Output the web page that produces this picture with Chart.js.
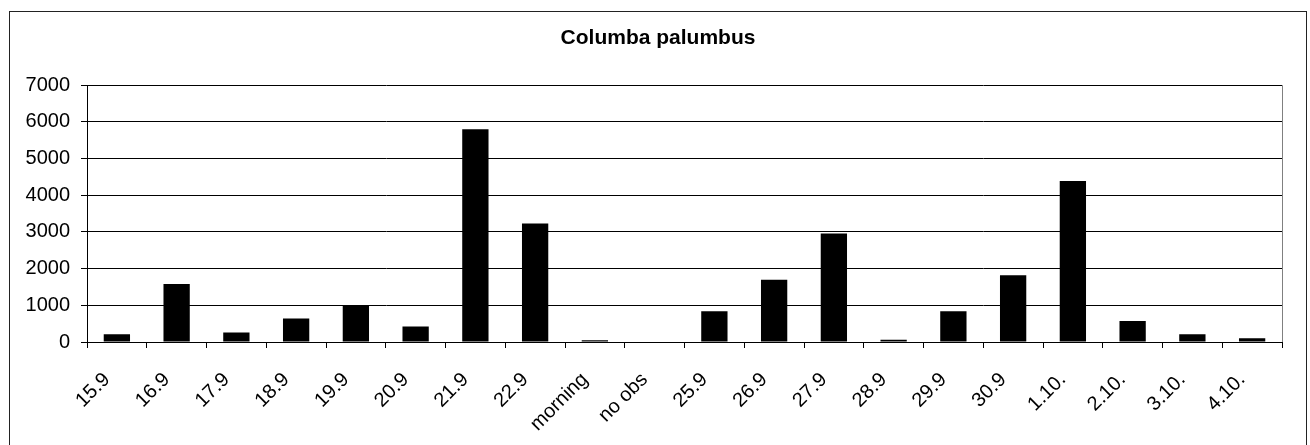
<!DOCTYPE html>
<html lang="en">
<head>
    <meta charset="UTF-8">
    <title>Columba palumbus</title>
    <script src="https://cdn.jsdelivr.net/npm/chart.js"></script>
    <style>
        html, body { margin: 0; padding: 0; background: #fff; }
        #wrap { position: relative; width: 1310px; height: 445px; overflow: hidden; }
        #frame {
            position: absolute; left: 9px; top: 11px;
            width: 1296px; height: 445px;
            border: 1px solid #222;
        }
        #chart { position: absolute; left: 0; top: 0; }
    </style>
</head>
<body>
    <div id="wrap">
        <div id="frame"></div>
        <canvas id="chart" width="1310" height="445"></canvas>
    </div>

    <script>
        // Observation days
        const days = ['15.9', '16.9', '17.9', '18.9', '19.9', '20.9', '21.9', '22.9', 'morning', 'no obs',
                      '25.9', '26.9', '27.9', '28.9', '29.9', '30.9', '1.10.', '2.10.', '3.10.', '4.10.'];
        // Counted birds per day
        const counts = [210, 1580, 260, 640, 1000, 420, 5800, 3230, 50, 0,
                        840, 1700, 2960, 60, 840, 1820, 4390, 570, 210, 100];
        const titleText = 'Columba palumbus';
        const yMax = 7000;
        const yStep = 1000;

        const font = 'Liberation Sans, Arial, sans-serif';

        // Grey border on the right side of the plot area, like the spreadsheet original
        const plotBorder = {
            id: 'plotBorder',
            afterDraw(chart) {
                const { ctx, chartArea } = chart;
                ctx.save();
                ctx.strokeStyle = '#808080';
                ctx.lineWidth = 1;
                ctx.beginPath();
                ctx.moveTo(Math.round(chartArea.right) + 0.5, chartArea.top);
                ctx.lineTo(Math.round(chartArea.right) + 0.5, chartArea.bottom);
                ctx.stroke();
                ctx.restore();
            }
        };

        const ctx = document.getElementById('chart').getContext('2d');
        new Chart(ctx, {
            type: 'bar',
            data: {
                labels: days,
                datasets: [{
                    label: titleText,
                    data: counts,
                    backgroundColor: '#000',
                    borderWidth: 0,
                    barPercentage: 0.44,
                    categoryPercentage: 1
                }]
            },
            options: {
                responsive: false,
                animation: false,
                devicePixelRatio: 1,
                layout: { padding: { left: 6, right: 0, top: 0, bottom: 0 } },
                plugins: {
                    legend: { display: false },
                    tooltip: { enabled: false },
                    title: {
                        display: true,
                        text: titleText,
                        color: '#000',
                        font: { family: font, size: 21, weight: 'bold' },
                        padding: { top: 26, bottom: 34 }
                    }
                },
                scales: {
                    x: {
                        grid: {
                            offset: true,
                            drawOnChartArea: false,
                            drawTicks: true,
                            tickLength: 6,
                            color: '#000'
                        },
                        border: { color: '#000' },
                        ticks: {
                            color: '#000',
                            font: { family: font, size: 20 },
                            minRotation: 45,
                            maxRotation: 45,
                            autoSkip: false,
                            padding: 20,
                            labelOffset: -10
                        },
                        afterFit(scale) { scale.height = 103; }
                    },
                    y: {
                        min: 0,
                        max: yMax,
                        grid: {
                            color: '#000',
                            tickLength: 6
                        },
                        border: { color: '#000' },
                        ticks: {
                            stepSize: yStep,
                            color: '#000',
                            font: { family: font, size: 20 },
                            padding: 11,
                            callback: (v) => String(v)
                        },
                        afterFit(scale) { scale.width = 81; }
                    },
                    // empty right-hand margin so the title stays centred on the frame
                    yRight: {
                        position: 'right',
                        grid: { display: false },
                        border: { display: false },
                        ticks: { display: false },
                        afterFit(scale) { scale.width = 28; }
                    }
                }
            },
            plugins: [plotBorder]
        });
    </script>
</body>
</html>
